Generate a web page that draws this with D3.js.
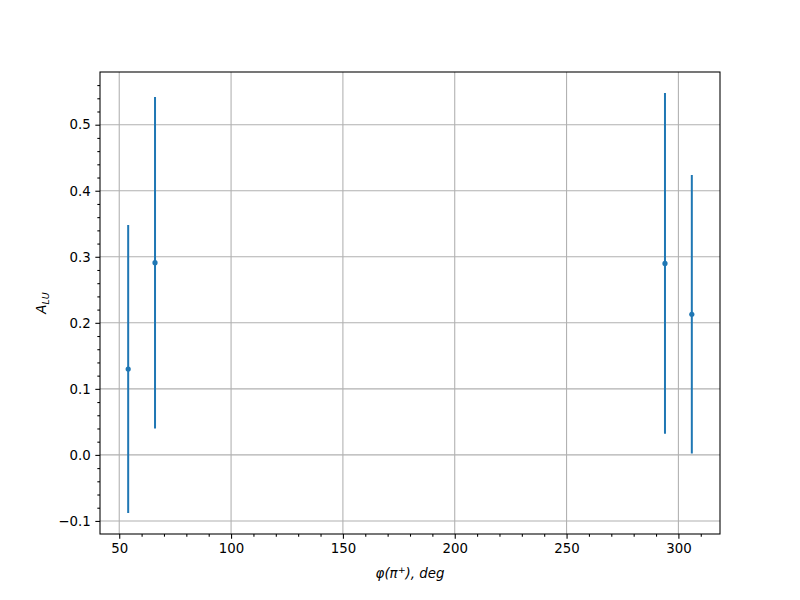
<!DOCTYPE html>
<html><head><meta charset="utf-8">
<script src="https://cdn.jsdelivr.net/npm/d3@7"></script>
<style>body{margin:0;background:#fff;} text{font-family:"DejaVu Sans",sans-serif;}</style>
</head><body>
<svg id="c" width="800" height="600"></svg>
<script>
const phi = [54, 66, 294, 306];
const alu = [0.130, 0.291, 0.290, 0.213];
const err = [0.218, 0.251, 0.258, 0.211];
const xTicks = [50, 100, 150, 200, 250, 300];
const yTicks = [-0.1, 0.0, 0.1, 0.2, 0.3, 0.4, 0.5];

const W = 800, H = 600;
const L = 100, R = 720, T = 72, B = 534;
const svg = d3.select("#c");
svg.append("rect").attr("width", W).attr("height", H).attr("fill", "#fff");

const xmin = d3.min(phi), xmax = d3.max(phi);
const xm = (xmax - xmin) * 0.05;
const lo = d3.min(alu.map((v, i) => v - err[i])), hi = d3.max(alu.map((v, i) => v + err[i]));
const ym = (hi - lo) * 0.05;
const x = d3.scaleLinear().domain([xmin - xm, xmax + xm]).range([L, R]);
const y = d3.scaleLinear().domain([lo - ym, hi + ym]).range([B, T]);

// grid
const g = svg.append("g");
g.selectAll(".gx").data(xTicks).enter().append("line")
  .attr("x1", d => x(d)).attr("x2", d => x(d)).attr("y1", T).attr("y2", B)
  .attr("stroke", "#b0b0b0").attr("stroke-width", 1.07);
g.selectAll(".gy").data(yTicks).enter().append("line")
  .attr("y1", d => y(d)).attr("y2", d => y(d)).attr("x1", L).attr("x2", R)
  .attr("stroke", "#b0b0b0").attr("stroke-width", 1.07);

// axes
const fmtY = d => d3.format(".1f")(d).replace("-", "\u2212");
const xAxis = d3.axisBottom(x).tickValues(xTicks).tickSize(4.67).tickPadding(4.67).tickFormat(d3.format("d"));
const yAxis = d3.axisLeft(y).tickValues(yTicks).tickSize(4.67).tickPadding(4.67).tickFormat(fmtY);
const xMinor = d3.range(40, 321, 10).filter(v => v >= x.domain()[0] && v <= x.domain()[1] && v % 50 !== 0);
const yMinor = d3.range(-12, 59, 2).map(v => v / 100).filter(v => v >= y.domain()[0] && v <= y.domain()[1] && Math.round(v * 100) % 10 !== 0);

const gx = svg.append("g").attr("transform", `translate(0,${B})`).call(xAxis);
const gy = svg.append("g").attr("transform", `translate(${L},0)`).call(yAxis);
svg.append("g").attr("transform", `translate(0,${B})`)
  .call(d3.axisBottom(x).tickValues(xMinor).tickSize(2.67).tickFormat(""));
svg.append("g").attr("transform", `translate(${L},0)`)
  .call(d3.axisLeft(y).tickValues(yMinor).tickSize(2.67).tickFormat(""));
svg.selectAll(".domain").remove();
svg.selectAll(".tick line").attr("stroke", "#000").attr("stroke-width", 1.07);
svg.selectAll(".tick text").attr("font-size", "13.33px").attr("fill", "#000").attr("font-family", "DejaVu Sans");

// frame
svg.append("rect").attr("x", L).attr("y", T).attr("width", R - L).attr("height", B - T)
  .attr("fill", "none").attr("stroke", "#000").attr("stroke-width", 1.07);

// error bars
const c = "#1f77b4";
const d = phi.map((p, i) => ({p, v: alu[i], e: err[i]}));
svg.selectAll(".eb").data(d).enter().append("line")
  .attr("x1", o => x(o.p)).attr("x2", o => x(o.p))
  .attr("y1", o => y(o.v - o.e)).attr("y2", o => y(o.v + o.e))
  .attr("stroke", c).attr("stroke-width", 2);
svg.selectAll(".pt").data(d).enter().append("circle")
  .attr("cx", o => x(o.p)).attr("cy", o => y(o.v)).attr("r", 2.6).attr("fill", c);

// labels
const xl = svg.append("text").attr("x", (L + R) / 2).attr("y", 578).attr("text-anchor", "middle")
  .attr("font-size", "13.33px").attr("font-style", "italic");
xl.append("tspan").text("φ(π");
xl.append("tspan").attr("font-size", "9.5px").attr("dy", -5).text("+");
xl.append("tspan").attr("dy", 5).text("), deg");

const yl = svg.append("text").attr("transform", `translate(46,${(T + B) / 2}) rotate(-90)`)
  .attr("text-anchor", "middle").attr("font-size", "13.33px").attr("font-style", "italic");
yl.append("tspan").text("A");
yl.append("tspan").attr("font-size", "9.5px").attr("dy", 3).text("LU");
</script>
</body></html>
